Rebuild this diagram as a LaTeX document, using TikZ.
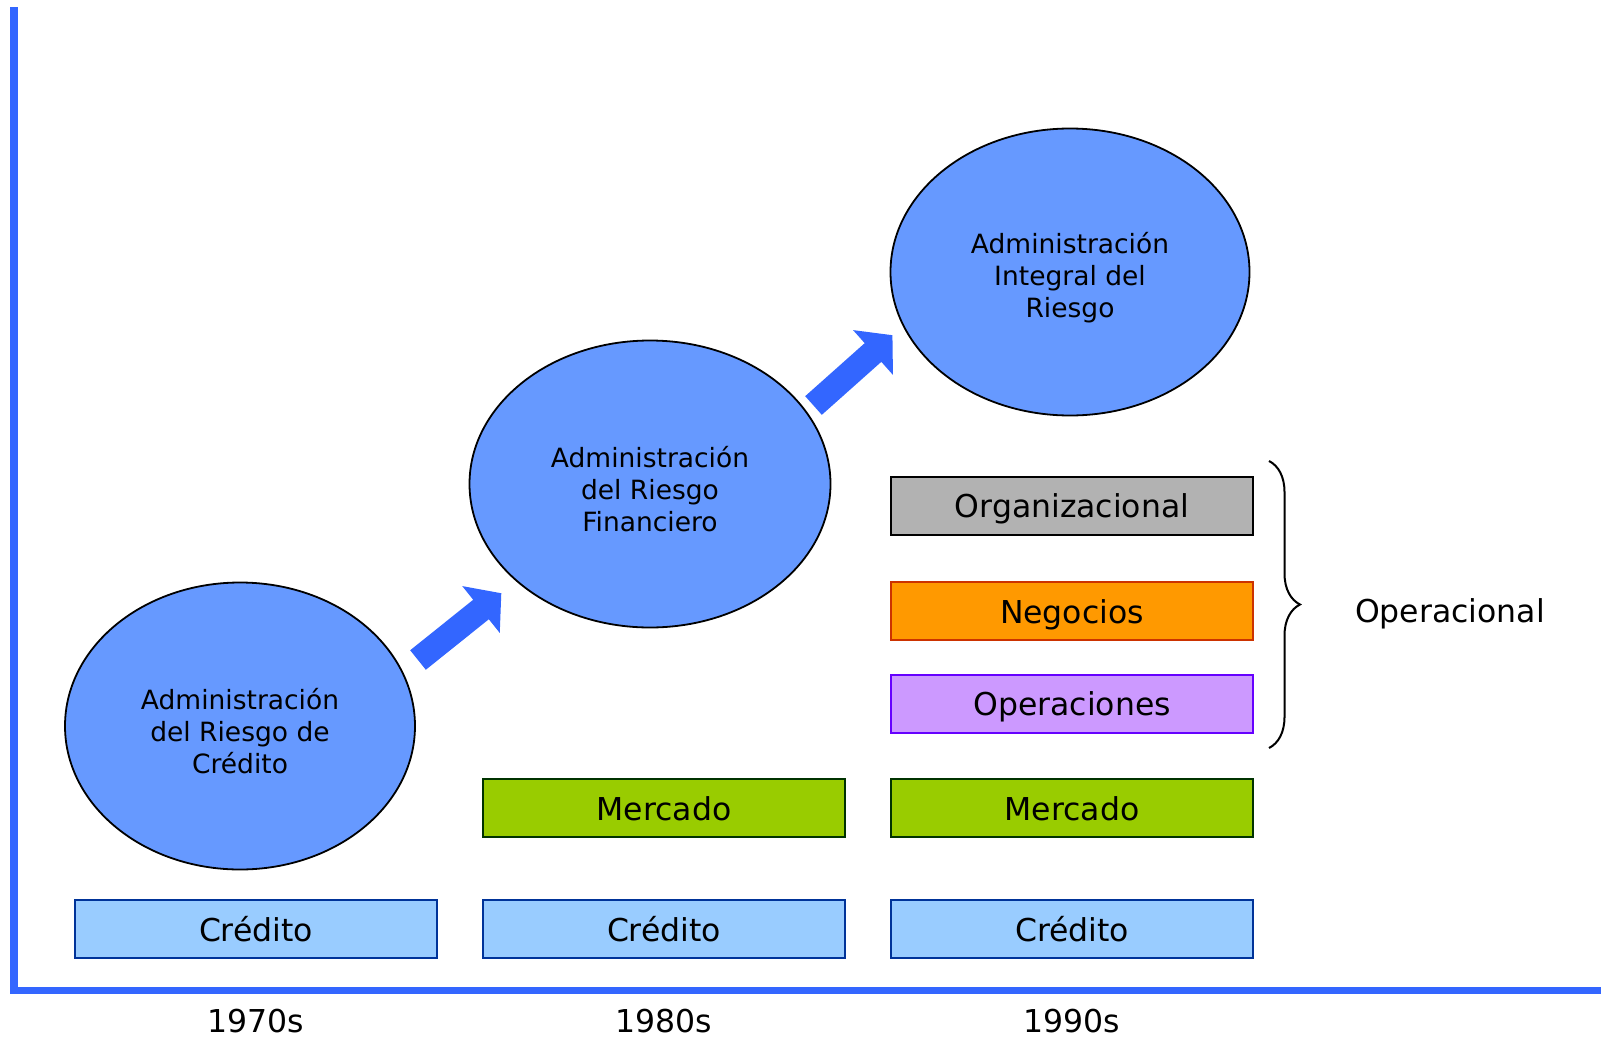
\documentclass[tikz,border=0pt]{standalone}
\usepackage{fontspec}
\setmainfont{DejaVu Sans}
\usetikzlibrary{shapes.geometric,calc,decorations.pathreplacing}

\definecolor{axisblue}{HTML}{3366FF}
\definecolor{ellfill}{HTML}{6699FF}
\definecolor{credfill}{HTML}{99CCFF}
\definecolor{credline}{HTML}{003399}
\definecolor{mercfill}{HTML}{99CC00}
\definecolor{mercline}{HTML}{003300}
\definecolor{orgfill}{HTML}{B2B2B2}
\definecolor{negfill}{HTML}{FF9900}
\definecolor{negline}{HTML}{CC3300}
\definecolor{opfill}{HTML}{CC99FF}
\definecolor{opline}{HTML}{6600FF}

\tikzset{
  stage/.style={ellipse, draw=black, line width=1.8pt, fill=ellfill,
    minimum width=#1, minimum height=287pt, inner sep=0pt, align=center,
    font=\fontsize{26.5}{32}\selectfont},
  riskbox/.style={rectangle, line width=2pt, minimum width=362pt,
    minimum height=58pt, inner sep=0pt, text height=28pt, text depth=3.5pt,
    font=\fontsize{31.5}{36}\selectfont},
  credbox/.style={riskbox, draw=credline, fill=credfill},
  mercbox/.style={riskbox, draw=mercline, fill=mercfill},
  orgbox/.style={riskbox, draw=black, fill=orgfill},
  negbox/.style={riskbox, draw=negline, fill=negfill},
  opbox/.style={riskbox, draw=opline, fill=opfill},
  yearlabel/.style={inner sep=0pt, font=\fontsize{31.5}{36}\selectfont},
  axisline/.style={draw=axisblue, line width=7.6pt},
  blockarrow/.style={fill=axisblue, draw=none}
}

\begin{document}
\begin{tikzpicture}[x=1pt,y=-1pt]
\useasboundingbox (0,0) rectangle (1608,1038);

% axes
\coordinate (top) at (14,7.5);
\coordinate (origin) at (14,990.5);
\coordinate (right) at (1601,990.5);
\draw[axisline] (top) -- (origin |- 0,994.3);
\draw[axisline] (10.2,990.5) -- (right);

% risk categories per decade
\node[credbox] (c70) at (256,929) {Crédito};
\node[credbox] (c80) at (664,929) {Crédito};
\node[credbox] (c90) at (1072,929) {Crédito};
\node[mercbox] (m80) at (664,808) {Mercado};
\node[mercbox] (m90) at (1072,808) {Mercado};
\node[opbox]   (ops) at (1072,703.5) {Operaciones};
\node[negbox]  (neg) at (1072,611) {Negocios};
\node[orgbox]  (org) at (1072,505.5) {Organizacional};

% decade labels
\node[yearlabel] (y70) at (256,1021) {1970s};
\node[yearlabel] (y80) at (664,1021) {1980s};
\node[yearlabel] (y90) at (1072,1021) {1990s};

% management stages (an empty first row lowers the text block a little)
\node[stage=350pt] (e1) at (240,726)
  {\mbox{}\\Administración\\del Riesgo de\\Crédito};
\node[stage=361pt] (e2) at (650,484)
  {\mbox{}\\Administración\\del Riesgo\\Financiero};
\node[stage=359pt] (e3) at (1070,272)
  {\mbox{}\\Administración\\Integral del\\Riesgo};

% block arrows between stages
\coordinate (a1t) at (418,660);
\coordinate (a1b) at (481,609.5);
\coordinate (a2t) at (813.5,405.5);
\coordinate (a2b) at (873,352.5);
\foreach \t/\b in {a1t/a1b, a2t/a2b}{
  \fill[blockarrow]
    ($(\t)!12.5pt!90:(\b)$) --
    ($(\b)!12.5pt!-90:(\t)$) --
    ($(\b)!30pt!-90:(\t)$) --
    ($(\b)!-26pt!(\t)$) --
    ($(\b)!30pt!90:(\t)$) --
    ($(\b)!12.5pt!90:(\t)$) --
    ($(\t)!12.5pt!-90:(\b)$) -- cycle;
}

% operational risk group
\coordinate (brtop) at (1269,461);
\coordinate (brbot) at (1269,748);
\draw[line width=2pt, decorate, decoration={brace, amplitude=31pt}]
  (brtop) -- (brbot);
\node[yearlabel] (oper) at (1450,614) {Operacional};
\end{tikzpicture}
\end{document}
